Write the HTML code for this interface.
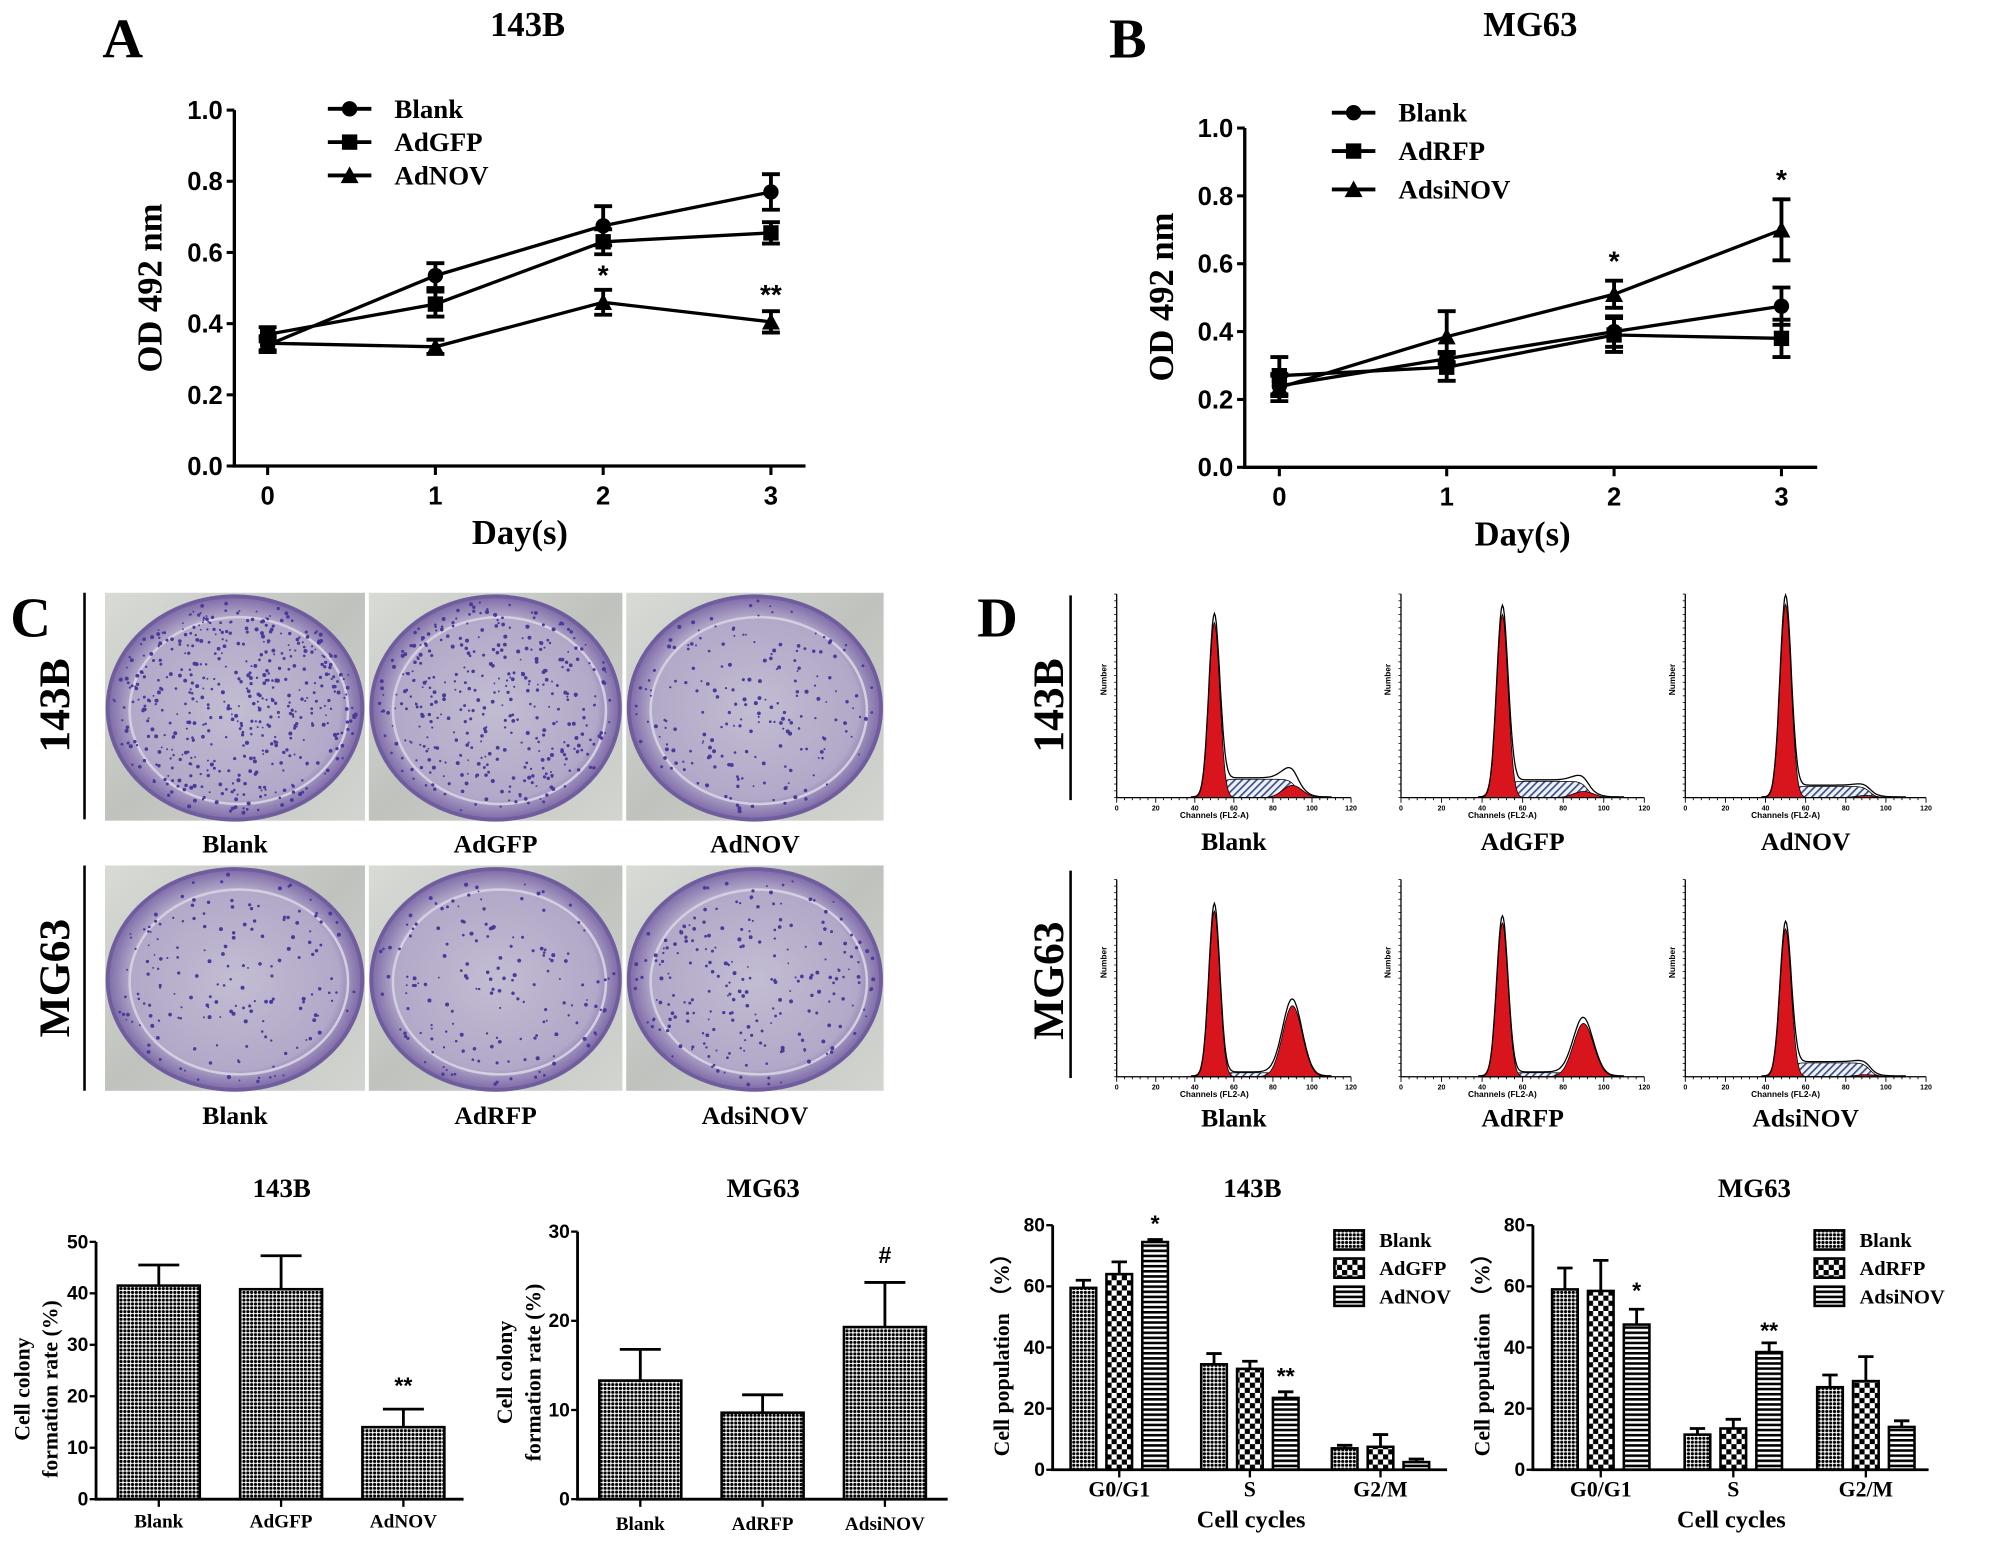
<!DOCTYPE html>
<html><head><meta charset="utf-8"><style>
html,body{margin:0;padding:0;background:#fff;}
svg{display:block;}
.serif{font-family:"Liberation Serif",serif;font-weight:bold;}
.sans{font-family:"Liberation Sans",sans-serif;font-weight:bold;}
</style></head><body>
<svg id="fig" xmlns="http://www.w3.org/2000/svg" width="2008" height="1544" viewBox="0 0 1568 1206" preserveAspectRatio="none">
<defs>
<pattern id="pDots" width="3" height="3" patternUnits="userSpaceOnUse"><rect width="3" height="3" fill="#fff"/><circle cx="1.5" cy="1.5" r="1.25" fill="#000"/></pattern>
<pattern id="pCheck" width="8" height="8" patternUnits="userSpaceOnUse"><rect width="8" height="8" fill="#fff"/><rect width="4" height="4" fill="#000"/><rect x="4" y="4" width="4" height="4" fill="#000"/></pattern>
<pattern id="pStripe" width="4" height="4" patternUnits="userSpaceOnUse"><rect width="4" height="4" fill="#fff"/><rect width="4" height="2" fill="#000"/></pattern>
<pattern id="pHatch" width="4" height="4" patternUnits="userSpaceOnUse" patternTransform="rotate(45)"><rect width="4" height="4" fill="#eef1f7"/><rect width="1.3" height="4" fill="#3a4f8a"/></pattern>
<radialGradient id="gDish" cx="50%" cy="50%" r="50%"><stop offset="0" stop-color="#c3bdd2"/><stop offset="0.82" stop-color="#b2a8c8"/><stop offset="1" stop-color="#7d6aa8"/></radialGradient>
<linearGradient id="gBg" x1="0" y1="0" x2="1" y2="1"><stop offset="0" stop-color="#d9dcd6"/><stop offset="0.5" stop-color="#bfc2bd"/><stop offset="1" stop-color="#d3d5d0"/></linearGradient>
</defs>
<g id="root"></g>
</svg>
<script>
// ---------- Panel A data (143B OD492) ----------
const daysA = [0, 1, 2, 3];
const blankA = [0.34, 0.535, 0.675, 0.77];
const blankAErr = [0.02, 0.035, 0.055, 0.05];
const gfpA = [0.37, 0.455, 0.63, 0.655];
const gfpAErr = [0.02, 0.035, 0.035, 0.03];
const novA = [0.345, 0.335, 0.46, 0.405];
const novAErr = [0.02, 0.02, 0.035, 0.03];
const yTicksLine = ["0.0", "0.2", "0.4", "0.6", "0.8", "1.0"];
// ---------- Panel B data (MG63 OD492) ----------
const blankB = [0.24, 0.32, 0.40, 0.475];
const blankBErr = [0.03, 0.02, 0.045, 0.055];
const rfpB = [0.27, 0.295, 0.39, 0.38];
const rfpBErr = [0.055, 0.04, 0.05, 0.055];
const sinovB = [0.235, 0.385, 0.51, 0.70];
const sinovBErr = [0.04, 0.075, 0.04, 0.09];
// ---------- Colony formation ----------
const colonyCats143 = ["Blank", "AdGFP", "AdNOV"];
const colony143 = [41.5, 40.8, 14.0];
const colony143Err = [4.0, 6.5, 3.5];
const colonyTicks143 = ["0", "10", "20", "30", "40", "50"];
const colonyCatsMG = ["Blank", "AdRFP", "AdsiNOV"];
const colonyMG = [13.3, 9.7, 19.3];
const colonyMGErr = [3.5, 2.0, 5.0];
const colonyTicksMG = ["0", "10", "20", "30"];
// ---------- Cell cycle ----------
const phases = ["G0/G1", "S", "G2/M"];
const cycTicks = ["0", "20", "40", "60", "80"];
const cyc143Blank = [59.5, 34.5, 7.0];
const cyc143BlankErr = [2.5, 3.5, 1.0];
const cyc143GFP = [64.0, 33.0, 7.5];
const cyc143GFPErr = [4.0, 2.5, 4.0];
const cyc143NOV = [74.5, 23.5, 2.5];
const cyc143NOVErr = [0.8, 2.0, 1.0];
const cycMGBlank = [59.0, 11.5, 27.0];
const cycMGBlankErr = [7.0, 2.0, 4.0];
const cycMGRFP = [58.5, 13.5, 29.0];
const cycMGRFPErr = [10.0, 3.0, 8.0];
const cycMGNOV = [47.5, 38.5, 14.0];
const cycMGNOVErr = [5.0, 3.0, 2.0];
// ---------- Flow histograms (relative peak heights) ----------
const histG1 = [0.86, 0.9, 0.95, 0.84, 0.78, 0.75];
const histG2 = [0.06, 0.03, 0.01, 0.36, 0.27, 0.01];
const histS = [0.09, 0.08, 0.055, 0.02, 0.02, 0.07];

const NS = "http://www.w3.org/2000/svg";
const root = document.getElementById('root');
function mk(tag, attrs, parent) {
  const e = document.createElementNS(NS, tag);
  for (const k in attrs) e.setAttribute(k, attrs[k]);
  (parent || root).appendChild(e);
  return e;
}
function txt(s, x, y, size, cls, anchor, parent, rot) {
  const t = mk('text', {x: x, y: y, 'font-size': size, 'class': cls, 'text-anchor': anchor || 'middle'}, parent);
  if (rot) t.setAttribute('transform', 'rotate(' + rot + ' ' + x + ' ' + y + ')');
  t.textContent = s;
  return t;
}

[["A", 80, 45], ["B", 866, 45], ["C", 8, 497], ["D", 763, 497]].forEach(p => {
  const t = txt(p[0], p[1], p[2], 44, 'serif', 'start');
  
  
});

function lineChart(cfg) {
  const g = mk('g', {});
  
  
  const xs = d => cfg.x0 + d * cfg.dx;
  const ys = v => cfg.yb - v * cfg.ypx;
  const t = txt(cfg.title, cfg.titleX, 28, 27, 'serif', 'middle', g);
  
  
  const ax = mk('path', {d: 'M' + cfg.ax + ' ' + ys(1) + 'V' + cfg.yb + 'H' + cfg.axEnd, stroke: '#000', 'stroke-width': 2.6, fill: 'none'}, g);
  
  
  yTicksLine.forEach((lab, i) => {
    const v = parseFloat(lab);
    mk('line', {x1: cfg.ax - 6, x2: cfg.ax, y1: ys(v), y2: ys(v), stroke: '#000', 'stroke-width': 2.4}, g);
    const tl = txt(lab, cfg.ax - 9, ys(v) + 7, 20, 'sans', 'end', g);
    
    
  });
  daysA.forEach(d => {
    mk('line', {x1: xs(d), x2: xs(d), y1: cfg.yb, y2: cfg.yb + 7, stroke: '#000', 'stroke-width': 2.4}, g);
    const tl = txt(String(d), xs(d), cfg.yb + 30, 20, 'sans', 'middle', g);
    
    
  });
  const xt = txt('Day(s)', cfg.titleX - 6, cfg.yb + 61, 27, 'serif', 'middle', g);
  
  
  const yt = txt('OD 492 nm', cfg.yTitleX, cfg.yTitleY, 27, 'serif', 'middle', g, -90);
  
  
  function marker(kind, x, y, parent) {
    let m;
    if (kind === 'c') m = mk('circle', {cx: x, cy: y, r: 6, fill: '#000'}, parent);
    else if (kind === 's') m = mk('rect', {x: x - 6, y: y - 6, width: 12, height: 12, fill: '#000'}, parent);
    else m = mk('path', {d: 'M' + x + ' ' + (y - 7) + 'L' + (x + 7) + ' ' + (y + 6) + 'L' + (x - 7) + ' ' + (y + 6) + 'Z', fill: '#000'}, parent);
    return m;
  }
  cfg.series.forEach((s, si) => {
    const sg = mk('g', {}, g);
    
    
    const pts = s.v.map((v, i) => xs(daysA[i]) + ',' + ys(v)).join(' ');
    mk('polyline', {points: pts, fill: 'none', stroke: '#000', 'stroke-width': 2.6}, sg);
    s.v.forEach((v, i) => {
      const x = xs(daysA[i]);
      const e = s.e[i];
      mk('path', {d: 'M' + x + ' ' + ys(v - e) + 'V' + ys(v + e) + 'M' + (x - 7) + ' ' + ys(v - e) + 'h14M' + (x - 7) + ' ' + ys(v + e) + 'h14', stroke: '#000', 'stroke-width': 3, fill: 'none'}, sg);
      const m = marker(s.m, x, ys(v), sg);
      
      
    });
    const ly = cfg.legY[si];
    const lg = mk('g', {}, g);
    
    
    mk('line', {x1: cfg.legX, x2: cfg.legX + 34, y1: ly, y2: ly, stroke: '#000', 'stroke-width': 3}, lg);
    marker(s.m, cfg.legX + 17, ly, lg);
    txt(s.label, cfg.legX + 52, ly + 7, 21, 'serif', 'start', lg);
  });
  cfg.stars.forEach(st => {
    const sl = txt(st[0], xs(st[1]), ys(st[2]), 22, 'sans', 'middle', g);
    
    
  });
}
lineChart({name: 'chart-a-143b-od', title: '143B', titleX: 412, x0: 209, dx: 131, yb: 364, ypx: 278, ax: 183, axEnd: 629,
  yTitleX: 126, yTitleY: 225, legX: 256, legY: [85, 111, 137],
  series: [{label: 'Blank', v: blankA, e: blankAErr, m: 'c'}, {label: 'AdGFP', v: gfpA, e: gfpAErr, m: 's'}, {label: 'AdNOV', v: novA, e: novAErr, m: 't'}],
  stars: [['*', 2, 0.51], ['**', 3, 0.455]]});
lineChart({name: 'chart-b-mg63-od', title: 'MG63', titleX: 1195, x0: 999, dx: 130.7, yb: 365, ypx: 265, ax: 972, axEnd: 1419,
  yTitleX: 916, yTitleY: 232, legX: 1040, legY: [88, 118, 148],
  series: [{label: 'Blank', v: blankB, e: blankBErr, m: 'c'}, {label: 'AdRFP', v: rfpB, e: rfpBErr, m: 's'}, {label: 'AdsiNOV', v: sinovB, e: sinovBErr, m: 't'}],
  stars: [['*', 2, 0.58], ['*', 3, 0.82]]});

let seed = 7;
function rnd() { seed = (seed * 16807) % 2147483647; return seed / 2147483647; }
function rowLabel(s, x, y, lx, y1, y2, name) {
  const t = txt(s, x, y, 34, 'serif', 'middle', null, -90);
  
  
  const l = mk('line', {x1: lx, x2: lx, y1: y1, y2: y2, stroke: '#000', 'stroke-width': 2});
  
  
}
rowLabel('143B', 54, 551, 66, 463, 640, 'row-label-143b');
rowLabel('MG63', 54, 764, 66, 676, 852, 'row-label-mg63');
const photoX = [[82, 285], [288, 486], [489, 690]];
const photoY = [[463, 641], [676, 852]];
const photoCaps = [["Blank", "AdGFP", "AdNOV"], ["Blank", "AdRFP", "AdsiNOV"]];
const dotCounts = [[520, 380, 200], [170, 160, 230]];
photoY.forEach((py, r) => {
  photoX.forEach((px, c) => {
    const g = mk('g', {});
    
    
    const w = px[1] - px[0], h = py[1] - py[0];
    mk('rect', {x: px[0], y: py[0], width: w, height: h, fill: 'url(#gBg)'}, g);
    const cx = px[0] + w / 2, cy = py[0] + h / 2 + 1;
    mk('ellipse', {cx: cx, cy: cy, rx: w * 0.49, ry: h * 0.49, fill: 'url(#gDish)', stroke: '#6f5d9e', 'stroke-width': 3}, g);
    mk('ellipse', {cx: cx + 3, cy: cy + 2, rx: w * 0.42, ry: h * 0.41, fill: 'none', stroke: '#d4cfe0', 'stroke-width': 2}, g);
    const n = dotCounts[r][c];
    for (let i = 0; i < n; i++) {
      const a = rnd() * Math.PI * 2, rr = Math.sqrt(rnd()) * 0.47;
      mk('circle', {cx: cx + Math.cos(a) * rr * w, cy: cy + Math.sin(a) * rr * h, r: 0.7 + rnd() * 0.9, fill: '#4a3a9a'}, g);
    }
    const t = txt(photoCaps[r][c], (px[0] + px[1]) / 2, r === 0 ? 666 : 878, 20, 'serif', 'middle');
    
    
  });
});

rowLabel('143B', 830, 551, 836, 465, 625, 'row-label-d-143b');
rowLabel('MG63', 830, 766, 836, 680, 842, 'row-label-d-mg63');
const histX = [[872, 1055], [1094, 1284], [1316, 1504]];
const histRows = [[464, 623], [687, 841]];
histRows.forEach((hr, r) => {
  histX.forEach((hx, c) => {
    const k = r * 3 + c;
    const g = mk('g', {});
    
    
    const x = ch => hx[0] + ch / 120 * (hx[1] - hx[0]);
    const H = hr[1] - hr[0];
    const y = f => hr[1] - f * H;
    const g1 = ch => histG1[k] * Math.exp(-Math.pow((ch - 50) / 2.8, 2) / 2);
    const g2 = ch => histG2[k] * Math.exp(-Math.pow((ch - 90) / 5, 2) / 2);
    const sp = ch => histS[k] * (1 / (1 + Math.exp(-(ch - 53) * 0.9))) * (1 / (1 + Math.exp((ch - 92) * 0.6)));
    function area(fn) {
      let d = 'M' + x(38) + ' ' + hr[1];
      for (let ch = 38; ch <= 110; ch += 0.5) d += 'L' + x(ch).toFixed(1) + ' ' + y(fn(ch)).toFixed(1);
      return d + 'L' + x(110) + ' ' + hr[1] + 'Z';
    }
    mk('path', {d: area(sp), fill: 'url(#pHatch)', stroke: '#000', 'stroke-width': 0.6}, g);
    mk('path', {d: area(g1), fill: '#d8141c', stroke: '#000', 'stroke-width': 0.6}, g);
    mk('path', {d: area(g2), fill: '#d8141c', stroke: '#000', 'stroke-width': 0.6}, g);
    let d = '';
    for (let ch = 38; ch <= 110; ch += 0.5) d += (d ? 'L' : 'M') + x(ch).toFixed(1) + ' ' + y((g1(ch) + g2(ch) + sp(ch)) * 1.04 + 0.004).toFixed(1);
    mk('path', {d: d, fill: 'none', stroke: '#000', 'stroke-width': 1}, g);
    mk('path', {d: 'M' + hx[0] + ' ' + hr[0] + 'V' + hr[1] + 'H' + hx[1], fill: 'none', stroke: '#000', 'stroke-width': 1}, g);
    for (let ch = 0; ch <= 120; ch += 4) mk('line', {x1: x(ch), x2: x(ch), y1: hr[1], y2: hr[1] + (ch % 20 === 0 ? 4 : 2), stroke: '#000', 'stroke-width': 0.7}, g);
    for (let i = 0; i <= 30; i++) mk('line', {x1: hx[0] - 2, x2: hx[0], y1: hr[1] - i * H / 30, y2: hr[1] - i * H / 30, stroke: '#000', 'stroke-width': 0.6}, g);
    for (let ch = 0; ch <= 120; ch += 20) txt(String(ch), x(ch), hr[1] + 10, 5.5, 'sans', 'middle', g);
    txt('Channels (FL2-A)', x(50), hr[1] + 16, 6.5, 'sans', 'middle', g);
    txt('Number', hx[0] - 8, hr[0] + H * 0.42, 6.5, 'sans', 'middle', g, -90);
    const t = txt(photoCaps[r][c], (hx[0] + hx[1]) / 2, r === 0 ? 664 : 880, 20, 'serif', 'middle');
    
    
  });
});

function barChart(cfg) {
  const g = mk('g', {});
  
  
  const ys = v => cfg.yb - v * cfg.ypx;
  const tt = txt(cfg.title, cfg.titleX, 935, 21, 'serif', 'middle', g);
  
  
  cfg.yTitle.forEach((line, i) => {
    const yt = txt(line, cfg.yTitleX[i], cfg.yTitleY, 17, 'serif', 'middle', g, -90);
    
    
  });
  cfg.ticks.forEach(lab => {
    const v = parseFloat(lab);
    mk('line', {x1: cfg.ax - 5, x2: cfg.ax, y1: ys(v), y2: ys(v), stroke: '#000', 'stroke-width': 1.8}, g);
    const tl = txt(lab, cfg.ax - 6, ys(v) + 5, 15, 'sans', 'end', g);
    
    
  });
  cfg.cats.forEach((cat, ci) => {
    const cx = cfg.c0 + ci * cfg.dc;
    mk('line', {x1: cx, x2: cx, y1: cfg.yb, y2: cfg.yb + 6, stroke: '#000', 'stroke-width': 1.8}, g);
    const cl = txt(cat, cx, cfg.yb + (cfg.catDy || 21), cfg.catSize || 15, 'serif', 'middle', g);
    
    
    cfg.series.forEach((s, si) => {
      const bx = cx + (si - (cfg.series.length - 1) / 2) * cfg.off;
      const v = s.v[ci], e = s.e[ci];
      mk('path', {d: 'M' + bx + ' ' + ys(v) + 'V' + ys(v + e) + 'M' + (bx - cfg.cap / 2) + ' ' + ys(v + e) + 'h' + cfg.cap, stroke: '#000', 'stroke-width': 2.2, fill: 'none'}, g);
      const b = mk('rect', {x: bx - cfg.bw / 2, y: ys(v), width: cfg.bw, height: cfg.yb - ys(v), fill: s.fill, stroke: '#000', 'stroke-width': 2}, g);
      
      
    });
  });
  const ax = mk('path', {d: 'M' + cfg.ax + ' ' + ys(parseFloat(cfg.ticks[cfg.ticks.length - 1])) + 'V' + cfg.yb + 'H' + cfg.axEnd, stroke: '#000', 'stroke-width': 2.2, fill: 'none'}, g);
  
  
  if (cfg.legend) {
    cfg.series.forEach((s, si) => {
      const lg = mk('g', {}, g);
      
      
      const ly = cfg.legY + si * 22;
      mk('rect', {x: cfg.legX, y: ly - 7, width: 23, height: 15, fill: s.fill, stroke: '#000', 'stroke-width': 2}, lg);
      txt(s.label, cfg.legX + 35, ly + 6, 16, 'serif', 'start', lg);
    });
    const xt = txt('Cell cycles', cfg.xTitleX, 1193, 19, 'serif', 'middle', g);
    
    
  }
  cfg.stars.forEach(st => {
    const x = cfg.c0 + st[1] * cfg.dc + (st[2] - (cfg.series.length - 1) / 2) * cfg.off;
    const sl = txt(st[0], x, ys(st[3]), 18, 'sans', 'middle', g);
    
    
  });
}
barChart({name: 'chart-colony-143b', title: '143B', titleX: 220, yb: 1171, ypx: 201 / 50, ax: 75, axEnd: 362, ticks: colonyTicks143,
  cats: colonyCats143, c0: 124, dc: 95.5, off: 0, bw: 64, cap: 32, catDy: 22,
  series: [{label: 'colony', v: colony143, e: colony143Err, fill: 'url(#pDots)'}],
  yTitle: ['Cell colony', 'formation rate (%)'], yTitleX: [23, 45], yTitleY: 1085, stars: [['**', 2, 0, 20.5]]});
barChart({name: 'chart-colony-mg63', title: 'MG63', titleX: 596, yb: 1171, ypx: 209 / 30, ax: 451, axEnd: 740, ticks: colonyTicksMG,
  cats: colonyCatsMG, c0: 500, dc: 95.5, off: 0, bw: 64, cap: 32, catDy: 24,
  series: [{label: 'colony', v: colonyMG, e: colonyMGErr, fill: 'url(#pDots)'}],
  yTitle: ['Cell colony', 'formation rate (%)'], yTitleX: [400, 422], yTitleY: 1072, stars: [['#', 2, 0, 26.5]]});
barChart({name: 'chart-cycle-143b', title: '143B', titleX: 978, yb: 1148, ypx: 191 / 80, ax: 822, axEnd: 1130, ticks: cycTicks,
  cats: phases, c0: 874, dc: 102, off: 28, bw: 20, cap: 12, catDy: 21, catSize: 17,
  series: [{label: 'Blank', v: cyc143Blank, e: cyc143BlankErr, fill: 'url(#pDots)'}, {label: 'AdGFP', v: cyc143GFP, e: cyc143GFPErr, fill: 'url(#pCheck)'}, {label: 'AdNOV', v: cyc143NOV, e: cyc143NOVErr, fill: 'url(#pStripe)'}],
  yTitle: ['Cell population （%）'], yTitleX: [788], yTitleY: 1054, legend: true, legX: 1042, legY: 968, xTitleX: 977,
  stars: [['*', 0, 2, 78], ['**', 1, 2, 28]]});
barChart({name: 'chart-cycle-mg63', title: 'MG63', titleX: 1370, yb: 1148, ypx: 191 / 80, ax: 1197, axEnd: 1506, ticks: cycTicks,
  cats: phases, c0: 1250, dc: 103.5, off: 28, bw: 20, cap: 12, catDy: 21, catSize: 17,
  series: [{label: 'Blank', v: cycMGBlank, e: cycMGBlankErr, fill: 'url(#pDots)'}, {label: 'AdRFP', v: cycMGRFP, e: cycMGRFPErr, fill: 'url(#pCheck)'}, {label: 'AdsiNOV', v: cycMGNOV, e: cycMGNOVErr, fill: 'url(#pStripe)'}],
  yTitle: ['Cell population （%）'], yTitleX: [1163], yTitleY: 1054, legend: true, legX: 1417, legY: 968, xTitleX: 1352,
  stars: [['*', 0, 2, 56], ['**', 1, 2, 43]]});
</script>
</body></html>
